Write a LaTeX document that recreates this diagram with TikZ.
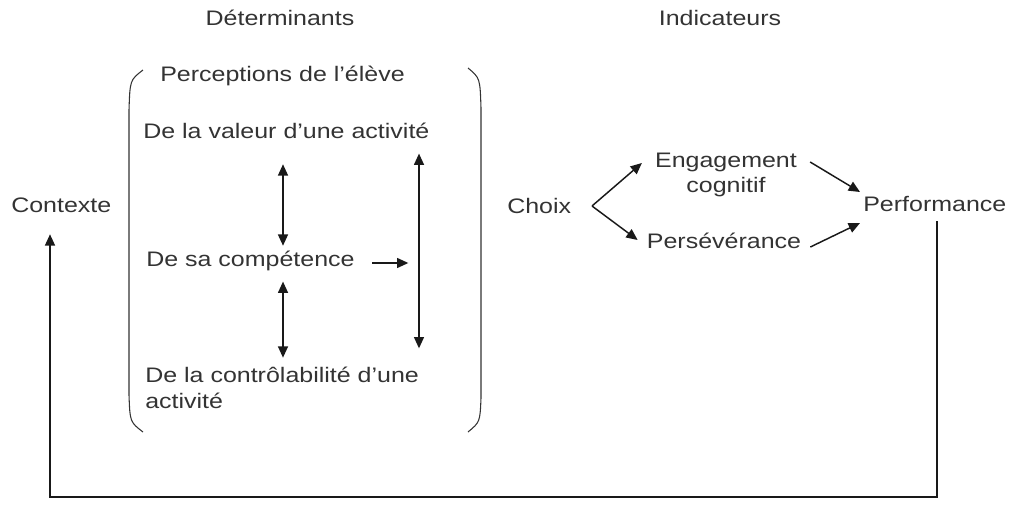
\documentclass[tikz,border=0pt]{standalone}
\usepackage{fontspec}
\setmainfont{Liberation Sans}[FakeStretch=1.19]
\usetikzlibrary{arrows.meta}

\begin{document}
\begin{tikzpicture}[x=0.75pt, y=-0.75pt,
    lbl/.style={inner sep=0pt, text=black!80, font=\fontsize{15.75}{19}\selectfont},
    txt/.style={lbl, text height=0.75em, text depth=0.2em},
    arr/.style={-{Triangle[length=8.5pt,width=7.5pt]}, line width=1.1pt, black!90},
    dbl/.style={{Triangle[length=8.5pt,width=7.5pt]}-{Triangle[length=8.5pt,width=7.5pt]}, line width=1.1pt, black!90},
    brace/.style={line width=0.8pt, black!80}]
      \useasboundingbox (0,0) rectangle (1011,507);

      \node[txt] (det) at (280,22) {Déterminants};
      \node[txt] (ind) at (720,22) {Indicateurs};
      \node[txt, anchor=west] (ctx) at (11,209) {Contexte};
      \node[txt, anchor=west] (perc) at (160,78) {Perceptions de l'élève};
      \node[txt, anchor=west] (val) at (143,135) {De la valeur d'une activité};
      \node[txt, anchor=west] (comp) at (146,263) {De sa compétence};
      \node[lbl, anchor=north west, align=left] (ctrl) at (145,367) {De la contrôlabilité d'une\\activité};
      \node[txt, anchor=west] (choix) at (507,210) {Choix};
      \node[lbl, align=center] (eng) at (726,175) {Engagement\\cognitif};
      \node[txt] (pers) at (724,245) {Persévérance};
      \node[txt, anchor=west] (perf) at (863,208) {Performance};

      \coordinate (colA) at (283,0);
      \coordinate (colB) at (419,0);
      \coordinate (fork) at (592,206);
      \coordinate (fbR) at (937,497);
      \coordinate (fbL) at (50,497);

      % parentheses
      \draw[brace] (143,70) .. controls (130,80) .. (129,110) -- (129,395) .. controls (130,422) .. (143,432);
      \draw[brace] (468,68) .. controls (480,78) .. (481,108) -- (481,398) .. controls (480,422) .. (468,432);

      \draw[dbl, shorten <=17pt, shorten >=8pt] (val.south -| colA) -- (comp.north -| colA);
      \draw[dbl, shorten <=9pt, shorten >=7pt] (comp.south -| colA) -- (ctrl.north -| colA);
      \draw[dbl, shorten <=9pt, shorten >=14pt] (val.south -| colB) -- (ctrl.north -| colB);
      \draw[arr, shorten <=13pt, shorten >=8pt] (comp.east) -- (comp.east -| colB);

      \draw[arr] (fork) -- ([shift={(-13,-12)}]eng.west);
      \draw[arr] (fork) -- ([shift={(-9,-5)}]pers.west);
      \draw[arr] ([shift={(13,-13)}]eng.east) -- ([shift={(-3,-16)}]perf.west);
      \draw[arr] ([shift={(9,2)}]pers.east) -- ([shift={(-3,15)}]perf.west);

      \draw[arr, shorten <=5pt, shorten >=14pt] (perf.south -| fbR) -- (fbR) -- (fbL) -- (ctx.south -| fbL);
    \end{tikzpicture}
\end{document}
